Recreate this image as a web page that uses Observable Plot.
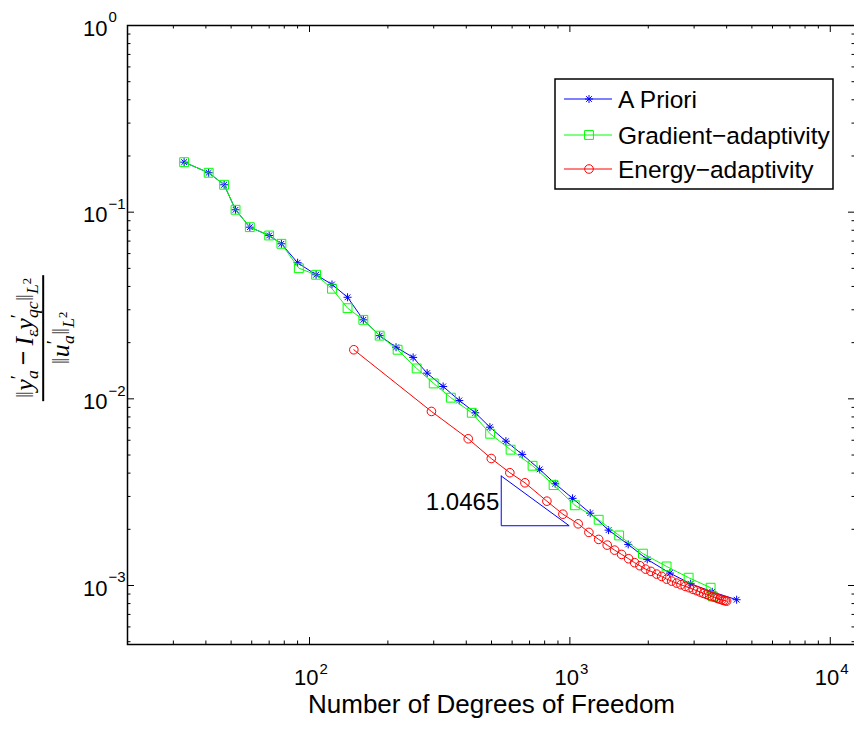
<!DOCTYPE html>
<html><head><meta charset="utf-8">
<script src="https://cdn.jsdelivr.net/npm/d3@7"></script>
<script src="https://cdn.jsdelivr.net/npm/@observablehq/plot@0.6"></script>
<style>
html,body{margin:0;padding:0;background:#fff;overflow:hidden;}
#wrap{position:relative;width:854px;height:731px;overflow:hidden;}
#ylab{position:absolute;left:43px;top:338px;transform:translate(-50%,-50%) rotate(-90deg);white-space:nowrap;font-family:"Liberation Serif","Times New Roman",serif;font-size:26px;color:#000;}
.frac{display:inline-flex;flex-direction:column;align-items:center;}
.num{border-bottom:2.5px solid #000;padding:0 3px 0 3px;line-height:1.08;}
.den{line-height:1.08;padding-top:0px;}
.n{color:#666;}
.pr{font-size:0.72em;vertical-align:0.45em;font-style:normal;}
.sb{font-size:0.68em;vertical-align:-0.3em;margin-left:-0.22em;}
.sb2{font-size:0.68em;vertical-align:-0.3em;}
.mi{font-weight:bold;margin:0 5px;}
.sp{font-size:0.72em;vertical-align:0.55em;font-style:normal;}
#legend{position:absolute;left:554px;top:78px;}
</style></head><body><div id="wrap"></div>
<script>
// ---- data ----
const aPrioriDof = [33, 41, 47, 52, 59, 70, 78, 90, 106, 122, 140, 161, 186, 215, 250, 283, 326, 376, 433, 493, 568, 656, 765, 878, 1024, 1197, 1408, 1675, 1982, 2422, 2909, 3522, 4369];
const aPrioriErr = [0.1853, 0.1626, 0.1402, 0.1030, 0.0831, 0.0750, 0.0677, 0.0536, 0.0462, 0.0410, 0.0350, 0.0265, 0.0218, 0.0189, 0.01667, 0.01373, 0.01165, 0.00980, 0.00842, 0.00705, 0.00593, 0.00504, 0.00419, 0.00351, 0.00293, 0.00244, 0.00198, 0.00166, 0.00138, 0.001165, 0.001022, 0.000925, 0.000839];

const gradDof = [33, 41, 47, 52, 59, 70, 78, 91, 106, 122, 140, 161, 186, 218, 258, 300, 349, 420, 494, 592, 719, 866, 1045, 1290, 1546, 1908, 2352, 2858, 3472, 3542];
const gradErr = [0.1853, 0.1626, 0.1402, 0.1030, 0.0831, 0.0750, 0.0677, 0.0501, 0.0462, 0.0389, 0.0306, 0.0265, 0.0218, 0.01832, 0.01455, 0.01209, 0.01014, 0.00842, 0.00650, 0.00534, 0.00438, 0.00345, 0.00269, 0.00225, 0.001854, 0.001481, 0.001265, 0.001101, 0.000973, 0.000874];

const energyDof = [148, 294, 407, 499, 588, 672, 816, 940, 1076, 1183, 1290, 1391, 1485, 1580, 1681, 1773, 1858, 1953, 2048, 2154, 2251, 2352, 2459, 2570, 2670, 2773, 2873, 2977, 3075, 3167, 3264, 3352, 3441, 3522, 3606, 3681, 3760, 3827, 3895, 3950, 3999];
const energyErr = [0.01832, 0.00856, 0.00611, 0.00479, 0.00402, 0.00355, 0.00283, 0.00241, 0.00214, 0.001925, 0.001766, 0.001646, 0.001547, 0.001467, 0.001391, 0.001325, 0.001276, 0.001224, 0.001190, 0.001151, 0.001119, 0.001082, 0.001056, 0.001030, 0.001010, 0.000989, 0.000973, 0.000953, 0.000938, 0.000922, 0.000907, 0.000896, 0.000882, 0.000871, 0.000864, 0.000853, 0.000846, 0.000839, 0.000832, 0.000829, 0.000825];

const seriesNames = ["A Priori", "Gradient\u2212adaptivity", "Energy\u2212adaptivity"];
const seriesColors = ["#0000ff", "#00ff00", "#ff0000"];

const slopeTriX = [545, 545, 994, 545];
const slopeTriY = [0.00386, 0.00209, 0.00209, 0.00386];
const slopeLabel = ["1.0465"];
const slopeLabelX = [545];
const slopeLabelY = [0.00279];

const xMajor = [1e2, 1e3, 1e4];
const xMajorExp = ["2", "3", "4"];
const xMinor = [30,40,50,60,70,80,90,200,300,400,500,600,700,800,900,2000,3000,4000,5000,6000,7000,8000,9000];
const yMajor = [1, 0.1, 0.01, 0.001];
const yMajorExp = ["0", "\u22121", "\u22122", "\u22123"];
const yMinor = [0.2,0.3,0.4,0.5,0.6,0.7,0.8,0.9,0.02,0.03,0.04,0.05,0.06,0.07,0.08,0.09,0.002,0.003,0.004,0.005,0.006,0.007,0.008,0.009,0.0005,0.0006,0.0007,0.0008,0.0009];
const xLabel = "Number of Degrees of Freedom";

// ---- build ----
const W = 854, H = 731, mL = 127, mR = -1, mT = 25, mB = 87;
const frameW = W - mL - mR, frameH = H - mT - mB;
const majLen = 7, minLen = 3.5;
const zip = (xs, ys) => xs.map((x, i) => ({x, y: ys[i]}));
const A = zip(aPrioriDof, aPrioriErr), G = zip(gradDof, gradErr), E = zip(energyDof, energyErr);
const tri = zip(slopeTriX, slopeTriY);
const lab = slopeLabel.map((t, i) => ({t, x: slopeLabelX[i], y: slopeLabelY[i]}));
const font = "Liberation Sans, Arial, Helvetica, sans-serif";

const chart = Plot.plot({
  width: W, height: H, marginLeft: mL, marginRight: mR, marginTop: mT, marginBottom: mB,
  style: {fontFamily: font, background: "white", overflow: "hidden"},
  x: {type: "log", domain: [20, 12500], range: [mL, W - mR], axis: null},
  y: {type: "log", domain: [4.83e-4, 1], range: [H - mB, mT], axis: null},
  marks: [
    // ticks (inward, on all four sides)
    Plot.tickX(xMajor, {x: d => d, insetTop: frameH - majLen, stroke: "#000"}),
    Plot.tickX(xMinor, {x: d => d, insetTop: frameH - minLen, stroke: "#000"}),
    Plot.tickX(xMajor, {x: d => d, insetBottom: frameH - majLen, stroke: "#000"}),
    Plot.tickX(xMinor, {x: d => d, insetBottom: frameH - minLen, stroke: "#000"}),
    Plot.tickY(yMajor, {y: d => d, insetRight: frameW - majLen, stroke: "#000"}),
    Plot.tickY(yMinor, {y: d => d, insetRight: frameW - minLen, stroke: "#000"}),
    Plot.tickY(yMajor, {y: d => d, insetLeft: frameW - majLen, stroke: "#000"}),
    Plot.tickY(yMinor, {y: d => d, insetLeft: frameW - minLen, stroke: "#000"}),
    // tick labels
    Plot.text(xMajor, {x: d => d, frameAnchor: "bottom", text: () => "10", textAnchor: "end", dx: 9, dy: 40, fontSize: 22, fill: "#000"}),
    Plot.text(xMajor, {x: d => d, frameAnchor: "bottom", text: (d, i) => xMajorExp[i], textAnchor: "start", dx: 10, dy: 29, fontSize: 15, fill: "#000"}),
    Plot.text(yMajor, {y: d => d, frameAnchor: "left", text: () => "10", textAnchor: "end", dx: -20, dy: 3, fontSize: 22, fill: "#000"}),
    Plot.text(yMajor, {y: d => d, frameAnchor: "left", text: (d, i) => yMajorExp[i], textAnchor: "start", dx: -19, dy: -8, fontSize: 15, fill: "#000"}),
    Plot.text([xLabel], {frameAnchor: "bottom", text: d => d, dy: 68, fontSize: 26, fill: "#000"}),
    // data
    Plot.line(A, {x: "x", y: "y", stroke: seriesColors[0], strokeWidth: 1}),
    Plot.dot(A, {x: "x", y: "y", symbol: "plus", r: 2.7, stroke: seriesColors[0], strokeWidth: 1}),
    Plot.dot(A, {x: "x", y: "y", symbol: "times", r: 2.7, stroke: seriesColors[0], strokeWidth: 1}),
    Plot.line(G, {x: "x", y: "y", stroke: seriesColors[1], strokeWidth: 1}),
    Plot.dot(G, {x: "x", y: "y", symbol: "square", r: 5, fill: "none", stroke: seriesColors[1], strokeWidth: 1}),
    Plot.line(E, {x: "x", y: "y", stroke: seriesColors[2], strokeWidth: 1}),
    Plot.dot(E, {x: "x", y: "y", r: 4.3, fill: "none", stroke: seriesColors[2], strokeWidth: 1}),
    // slope triangle
    Plot.line(tri, {x: "x", y: "y", stroke: "#0000ff", strokeWidth: 1}),
    Plot.text(lab, {x: "x", y: "y", text: "t", textAnchor: "end", dx: -2, fontSize: 24, fill: "#000"}),
    Plot.frame({stroke: "#000", strokeWidth: 1.5})
  ]
});
const wrap = document.getElementById("wrap");
wrap.appendChild(chart);

// y-axis label (fraction)
const yl = document.createElement("div");
yl.id = "ylab";
yl.innerHTML = '<div class="frac"><div class="num"><span class="n">\u2016</span><i>y</i><span class="pr">\u2032</span><sub class="sb"><i>a</i></sub><span class="mi">\u2212</span><i>I</i><sub class="sb2"><i>\u03b5</i></sub><i>y</i><span class="pr">\u2032</span><sub class="sb"><i>qc</i></sub><span class="n">\u2016</span><sub class="sb2"><i>L</i><span class="sp">2</span></sub></div>' +
  '<div class="den"><span class="n">\u2016</span><i>u</i><span class="pr">\u2032</span><sub class="sb"><i>a</i></sub><span class="n">\u2016</span><sub class="sb2"><i>L</i><span class="sp">2</span></sub></div></div>';
wrap.appendChild(yl);

// legend
const lw = 280, lh = 112;
const leg = d3.create("svg").attr("id", "legend").attr("width", lw).attr("height", lh);
leg.append("rect").attr("x", 1).attr("y", 1).attr("width", lw - 2).attr("height", lh - 2).attr("fill", "white").attr("stroke", "#000").attr("stroke-width", 1.5);
const rowY = [21, 57, 91];
seriesNames.forEach((name, i) => {
  const g = leg.append("g").attr("transform", `translate(0,${rowY[i]})`);
  g.append("line").attr("x1", 10).attr("x2", 58).attr("y1", 0).attr("y2", 0).attr("stroke", seriesColors[i]).attr("stroke-width", 1);
  const c = seriesColors[i];
  if (i === 0) {
    g.append("path").attr("transform", "translate(35,0)").attr("d", d3.symbol(d3.symbolPlus, 2.7 * 2.7 * Math.PI)()).attr("stroke", c).attr("fill", "none");
    g.append("path").attr("transform", "translate(35,0)").attr("d", d3.symbol(d3.symbolTimes, 2.7 * 2.7 * Math.PI)()).attr("stroke", c).attr("fill", "none");
  } else if (i === 1) {
    g.append("path").attr("transform", "translate(35,0)").attr("d", d3.symbol(d3.symbolSquare, 25 * Math.PI)()).attr("stroke", c).attr("fill", "none");
  } else {
    g.append("circle").attr("cx", 35).attr("cy", 0).attr("r", 4.3).attr("stroke", c).attr("fill", "none");
  }
  g.append("text").attr("x", 64).attr("y", 9).attr("font-family", font).attr("font-size", 24.5).attr("fill", "#000").text(name);
});
wrap.appendChild(leg.node());
</script></body></html>
